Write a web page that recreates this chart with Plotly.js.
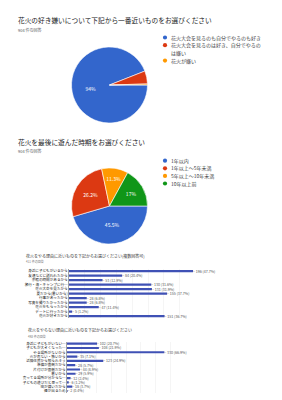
<!DOCTYPE html>
<html>
<head>
<meta charset="utf-8">
<script src="https://cdn.plot.ly/plotly-3.0.1.min.js"></script>
<style>html,body{margin:0;padding:0;background:#fff;}#chart{width:282px;height:400px;}</style>
</head>
<body>
<div id="chart"></div>
<script>
// ---- data ----
const q1Title = '花火の好き嫌いについて下記から一番近いものをお選びください';
const q1Count = '904 件の回答';
const q1Labels = ['花火大会を見るのも自分でやるのも好き', '花火大会を見るのは好き、自分でやるのは嫌い', '花火が嫌い'];
const q1Values = [850, 50, 4];

const q2Title = '花火を最後に遊んだ時期をお選びください';
const q2Count = '904 件の回答';
const q2Labels = ['1年以内', '1年以上〜5年未満', '5年以上〜10年未満', '10年以上前'];
const q2Values = [411, 237, 102, 154];

const pieColors = ['#3366cc', '#dc3912', '#ff9900', '#109618'];

const q3Title = '花火をやる理由に近いものを下記からお選びください(複数回答可)';
const q3Count = '411 件の回答';
const q3Total = 411;
const q3Labels = ['身近に子どもがいるから', '友達などに誘われたから', '余暇の時間があるから', '旅行・海・キャンプに行…', '花火大会を見たから', '夏だから(暑いから)', '行事があったから', '写真を撮りたかったから', '花火をもらったから', 'デートに行ったから', '花火が好きだから'];
const q3Values = [196, 84, 53, 130, 131, 155, 28, 28, 47, 5, 151];

const q4Title = '花火をやらない理由に近いものを下記からお選びください';
const q4Count = '493 件の回答';
const q4Total = 493;
const q4Labels = ['身近に子どもがいない…', '子どもが大きくなった…', 'やる場所がないから', '火が危ない・怖いから', '近隣住民から怒られそう', '準備が面倒だから', '片付けが面倒だから', '暑いから', '売ってる場所が分からな…', '子どもの遊びだと思って…', '虫が嫌いだから', '煙が出るため'];
const q4Values = [102, 108, 330, 35, 123, 28, 44, 29, 12, 6, 18, 2];

// ---- helpers ----
const W = 282, H = 400;
const px = v => v / W;
const py = v => 1 - v / H;
function pctLabel(v, tot) {
  const p = Math.round(v / tot * 1000) / 10;
  return (p % 1 === 0 ? p.toFixed(0) : p.toFixed(1)) + '%';
}
function wrap(s, n) {
  const out = [];
  for (let i = 0; i < s.length; i += n) out.push(s.slice(i, i + n));
  return out;
}
const FONT = '"Noto Sans CJK JP", Roboto, sans-serif';

function pieTrace(labels, values, domainPx, minShow) {
  const tot = values.reduce((a, b) => a + b, 0);
  return {
    type: 'pie', labels: labels, values: values, sort: false,
    direction: 'clockwise', rotation: 90,
    marker: {colors: pieColors.slice(0, labels.length), line: {color: '#fff', width: 0.6}},
    text: values.map(v => pctLabel(v, tot)),
    textinfo: 'text',
    textposition: values.map(v => v / tot >= minShow ? 'inside' : 'none'),
    insidetextorientation: 'horizontal',
    textfont: {size: 5, color: '#fff', family: FONT},
    hoverinfo: 'none', showlegend: false,
    domain: {x: [px(domainPx[0]), px(domainPx[1])], y: [py(domainPx[3]), py(domainPx[2])]}
  };
}

function barTrace(labels, values, tot, xa, ya) {
  return {
    type: 'bar', orientation: 'h', y: labels, x: values,
    xaxis: xa, yaxis: ya,
    marker: {color: '#3f51b5'},
    text: values.map(v => '– ' + v + ' (' + (v / tot * 100).toFixed(1) + '%)'),
    textposition: 'outside', constraintext: 'none', cliponaxis: false,
    textangle: 0,
    textfont: {size: 3.6, color: '#555', family: FONT},
    hoverinfo: 'none', showlegend: false
  };
}

const traces = [
  pieTrace(q1Labels, q1Values, [71.5, 147.5, 47, 123], 0.08),
  pieTrace(q2Labels, q2Values, [71.5, 147.5, 168, 244], 0.05),
  barTrace(q3Labels, q3Values, q3Total, 'x', 'y'),
  barTrace(q4Labels, q4Values, q4Total, 'x2', 'y2')
];

const annotations = [];
const shapes = [];
function addText(text, xPx, yPx, size, color) {
  annotations.push({text: text, x: px(xPx), y: py(yPx), xref: 'paper', yref: 'paper',
    xanchor: 'left', yanchor: 'middle', showarrow: false,
    font: {size: size, color: color, family: FONT}});
}
addText(q1Title, 16, 20, 6.7, '#202124');
addText(q1Count, 16, 30, 4, '#5f6368');
addText(q2Title, 16, 142.5, 6.7, '#202124');
addText(q2Count, 16, 150.5, 4, '#5f6368');
addText(q3Title, 23.5, 256, 4, '#333');
addText(q3Count, 23.5, 261.5, 3, '#777');
addText(q4Title, 25.5, 330, 4, '#333');
addText(q4Count, 25.5, 336, 3, '#777');

// custom legends built from the label arrays
function addLegend(labels, dotX, startY, step) {
  let y = startY;
  labels.forEach((lab, i) => {
    const lines = wrap(lab, 18);
    const r = 2.1;
    shapes.push({type: 'circle', xref: 'paper', yref: 'paper',
      x0: px(dotX - r), x1: px(dotX + r), y0: py(y + r), y1: py(y - r),
      fillcolor: pieColors[i], line: {width: 0}});
    lines.forEach((ln, j) => addText(ln, dotX + 3.8, y + j * step, 5, '#3c4043'));
    y += lines.length * step;
  });
}
addLegend(q1Labels, 165, 37.5, 7.7);
addLegend(q2Labels, 165, 160.7, 7.6);

const layout = {
  width: W, height: H,
  margin: {l: 0, r: 0, t: 0, b: 0, pad: 0},
  paper_bgcolor: '#fff', plot_bgcolor: '#fff',
  font: {family: FONT, size: 5, color: '#333'},
  showlegend: false,
  bargap: 0.5,
  xaxis: {domain: [px(69), px(69 + 126.6)], anchor: 'y', range: [0, 200], dtick: 25,
    showgrid: true, gridcolor: '#ececec', gridwidth: 0.5, zeroline: false,
    showticklabels: false, ticks: '', fixedrange: true},
  yaxis: {domain: [py(318.25), py(268.75)], anchor: 'x', type: 'category', autorange: 'reversed',
    showline: true, linecolor: '#666', linewidth: 0.6, ticks: '', showgrid: false,
    tickfont: {size: 3.6, color: '#222', family: FONT}, fixedrange: true},
  xaxis2: {domain: [px(67), px(185)], anchor: 'y2', range: [0, 400], dtick: 50,
    showgrid: true, gridcolor: '#ececec', gridwidth: 0.5, zeroline: false,
    showticklabels: false, ticks: '', fixedrange: true},
  yaxis2: {domain: [py(393.15), py(341.55)], anchor: 'x2', type: 'category', autorange: 'reversed',
    showline: true, linecolor: '#666', linewidth: 0.6, ticks: '', showgrid: false,
    tickfont: {size: 3.6, color: '#222', family: FONT}, fixedrange: true},
  annotations: annotations,
  shapes: shapes
};

Plotly.newPlot('chart', traces, layout, {staticPlot: true, displayModeBar: false});
</script>
</body>
</html>
